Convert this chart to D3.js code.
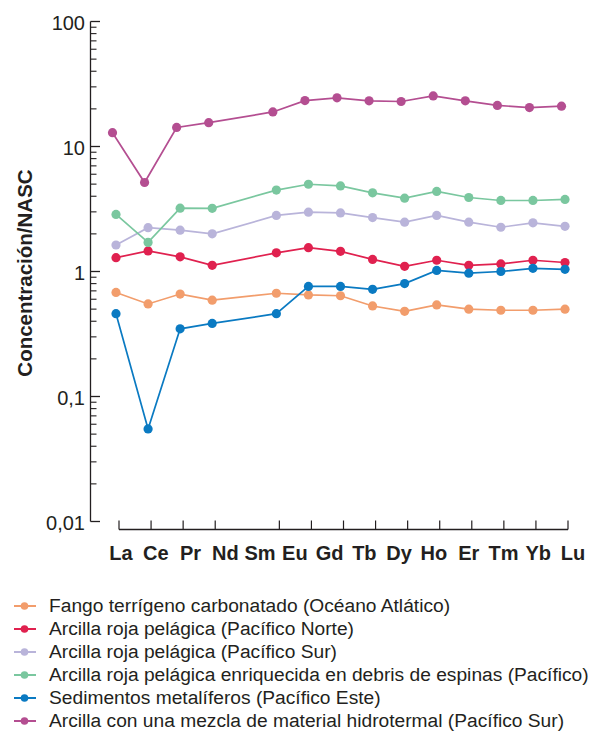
<!DOCTYPE html>
<html>
<head>
<meta charset="utf-8">
<script src="https://cdn.jsdelivr.net/npm/d3@7"></script>
<style>
  html, body { margin: 0; padding: 0; background: #fff; }
  svg { display: block; font-family: "Liberation Sans", Arial, Helvetica, sans-serif; }
</style>
</head>
<body>
<svg id="chart" width="589" height="733"></svg>
<script>
// Rare earth elements (Pm slot kept for spacing, no data / label)
const elements = ["La","Ce","Pr","Nd","Pm","Sm","Eu","Gd","Tb","Dy","Ho","Er","Tm","Yb","Lu"];
const axisLabels = ["La","Ce","Pr","Nd","Sm","Eu","Gd","Tb","Dy","Ho","Er","Tm","Yb","Lu"];
const plotted = ["La","Ce","Pr","Nd","Sm","Eu","Gd","Tb","Dy","Ho","Er","Tm","Yb","Lu"];

// NASC-normalised concentrations, one array per sediment type
const fangoAtlantico   = [0.68, 0.55, 0.66, 0.59, 0.67, 0.65, 0.64, 0.53, 0.48, 0.54, 0.50, 0.49, 0.49, 0.50];
const rojaNorte        = [1.29, 1.46, 1.31, 1.12, 1.41, 1.55, 1.45, 1.25, 1.10, 1.23, 1.12, 1.15, 1.23, 1.18];
const rojaSur          = [1.63, 2.24, 2.14, 2.00, 2.81, 2.98, 2.94, 2.70, 2.48, 2.81, 2.48, 2.26, 2.45, 2.30];
const rojaEspinas      = [2.86, 1.71, 3.21, 3.20, 4.48, 4.99, 4.84, 4.26, 3.86, 4.37, 3.91, 3.70, 3.70, 3.77];
const metaliferos      = [0.46, 0.055, 0.348, 0.384, 0.46, 0.76, 0.76, 0.72, 0.80, 1.02, 0.97, 1.00, 1.06, 1.04];
const hidrotermal      = [12.9, 5.15, 14.2, 15.5, 18.9, 23.3, 24.5, 23.2, 22.9, 25.4, 23.2, 21.3, 20.5, 21.0];

const seriesNames = [
  "Fango terrígeno carbonatado (Océano Atlático)",
  "Arcilla roja pelágica (Pacífico Norte)",
  "Arcilla roja pelágica (Pacífico Sur)",
  "Arcilla roja pelágica enriquecida en debris de espinas (Pacífico)",
  "Sedimentos metalíferos (Pacífico Este)",
  "Arcilla con una mezcla de material hidrotermal (Pacífico Sur)"
];
const seriesValues = [fangoAtlantico, rojaNorte, rojaSur, rojaEspinas, metaliferos, hidrotermal];
const seriesColors = ["#f29d6c", "#e0214f", "#b9b4da", "#7ac79f", "#0a7ac2", "#b44e91"];
const seriesShift  = [0, 0, 0, 0, 0, -3.5];

const yTickValues = [100, 10, 1, 0.1, 0.01];
const yTickLabels = ["100", "10", "1", "0,1", "0,01"];
const yTitle = "Concentración/NASC";

const svg = d3.select("#chart");
const ink = "#231f20";

const x = d3.scalePoint().domain(elements).range([116, 565]);
const xLab = d3.scalePoint().domain(axisLabels).range([121, 573]);
const y = d3.scaleLog().domain([0.01, 100]).range([521.5, 21.5]);

// ---- Y axis (log, ticks pointing right) ----
const yAxisX = 90.5;
const gy = svg.append("g");
gy.append("line")
  .attr("x1", yAxisX).attr("x2", yAxisX)
  .attr("y1", y(100)).attr("y2", y(0.01))
  .attr("stroke", ink).attr("stroke-width", 1.3);

const minor = [];
for (let e = -2; e < 2; e++) {
  for (let m = 2; m <= 9; m++) minor.push(m * Math.pow(10, e));
}
gy.selectAll("line.minor").data(minor).join("line")
  .attr("class", "minor")
  .attr("x1", yAxisX).attr("x2", yAxisX + 6)
  .attr("y1", d => y(d)).attr("y2", d => y(d))
  .attr("stroke", ink).attr("stroke-width", 1.1);
gy.selectAll("line.major").data(yTickValues).join("line")
  .attr("class", "major")
  .attr("x1", yAxisX).attr("x2", yAxisX + 9.5)
  .attr("y1", d => y(d)).attr("y2", d => y(d))
  .attr("stroke", ink).attr("stroke-width", 1.3);
gy.selectAll("text").data(yTickValues).join("text")
  .attr("x", 85)
  .attr("y", d => y(d) + 8.5)
  .attr("text-anchor", "end")
  .attr("font-size", 20)
  .attr("fill", ink)
  .text((d, i) => yTickLabels[i]);

svg.append("text")
  .attr("transform", "translate(32,273) rotate(-90)")
  .attr("text-anchor", "middle")
  .attr("font-size", 20.5)
  .attr("font-weight", "bold")
  .attr("fill", ink)
  .text(yTitle);

// ---- X axis (ticks pointing up) ----
const xAxisY = 529.5;
const tickShift = 3;
const gx = svg.append("g");
gx.append("line")
  .attr("x1", x("La") + tickShift).attr("x2", x("Lu") + tickShift)
  .attr("y1", xAxisY).attr("y2", xAxisY)
  .attr("stroke", ink).attr("stroke-width", 1.3);
gx.selectAll("line.tick").data(plotted).join("line")
  .attr("class", "tick")
  .attr("x1", d => x(d) + tickShift).attr("x2", d => x(d) + tickShift)
  .attr("y1", xAxisY).attr("y2", xAxisY - 9)
  .attr("stroke", ink).attr("stroke-width", 1.2);
gx.selectAll("text").data(axisLabels).join("text")
  .attr("x", d => xLab(d))
  .attr("y", 560)
  .attr("text-anchor", "middle")
  .attr("font-size", 20)
  .attr("font-weight", "bold")
  .attr("fill", ink)
  .text(d => d);

// ---- Series ----
const line = d3.line().x(d => d.x).y(d => d.y);
seriesValues.forEach((vals, s) => {
  const pts = plotted.map((el, i) => ({ x: x(el) + seriesShift[s], y: y(vals[i]) }));
  const g = svg.append("g");
  g.append("path")
    .attr("d", line(pts))
    .attr("fill", "none")
    .attr("stroke", seriesColors[s])
    .attr("stroke-width", 1.7);
  g.selectAll("circle").data(pts).join("circle")
    .attr("cx", d => d.x).attr("cy", d => d.y)
    .attr("r", 4.6)
    .attr("fill", seriesColors[s]);
});

// ---- Legend ----
const legendY0 = 606, legendStep = 23;
const lg = svg.append("g");
seriesNames.forEach((name, i) => {
  const cy = legendY0 + i * legendStep;
  lg.append("line")
    .attr("x1", 14).attr("x2", 36).attr("y1", cy).attr("y2", cy)
    .attr("stroke", seriesColors[i]).attr("stroke-width", 2);
  lg.append("circle")
    .attr("cx", 24.5).attr("cy", cy).attr("r", 3.8)
    .attr("fill", seriesColors[i]);
  lg.append("text")
    .attr("x", 49).attr("y", cy + 6)
    .attr("font-size", 19.2)
    .attr("fill", ink)
    .text(name);
});
</script>
</body>
</html>
